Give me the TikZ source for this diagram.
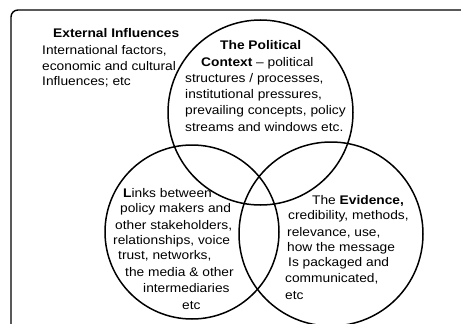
\documentclass[tikz,border=0pt]{standalone}
\usepackage{fontspec}
\setmainfont{Liberation Sans}[FakeStretch=1.1]
\tikzset{
  frame/.style={line width=1.4pt, rounded corners=7pt},
  ring/.style={line width=1.5pt},
  txt/.style={anchor=base west, inner sep=0pt, font=\fontsize{12.5}{15}\selectfont},
}
\begin{document}
\begin{tikzpicture}[x=1pt,y=-1pt]
\useasboundingbox (0,0) rectangle (461,324);
% frame (cropped at right and bottom)
\draw[frame] (462,10) -- (11,10) -- (11,325);
% circles
\draw[ring] (260.5,112.5) circle[radius=92.5pt];
\draw[ring] (192,232) circle[radius=87pt];
\draw[ring] (331,234) circle[radius=92pt];
% external influences
\node[txt] (ext1) at (53,37) {\textbf{External Influences}};
\node[txt] (ext2) at (42,54) {International factors,};
\node[txt] (ext3) at (42,70) {economic and cultural};
\node[txt] (ext4) at (42,85) {Influences; etc};
% political context
\node[txt] (pol1) at (220,49) {\textbf{The Political}};
\node[txt] (pol2) at (201,66) {\textbf{Context} -- political};
\node[txt] (pol3) at (185,82) {structures / processes,};
\node[txt] (pol4) at (185,98) {institutional pressures,};
\node[txt] (pol5) at (185,114) {prevailing concepts, policy};
\node[txt] (pol6) at (185,131) {streams and windows etc.};
% links
\node[txt] (lnk1) at (123,197) {\textbf{L}inks between};
\node[txt] (lnk2) at (120,212) {policy makers and};
\node[txt] (lnk3) at (115,229) {other stakeholders,};
\node[txt] (lnk4) at (113,244) {relationships, voice};
\node[txt] (lnk5) at (118,259) {trust, networks,};
\node[txt] (lnk6) at (125,276) {the media \& other};
\node[txt] (lnk7) at (143,292) {intermediaries};
\node[txt] (lnk8) at (182,309) {etc};
% evidence
\node[txt] (evd1) at (312,204) {The \textbf{Evidence,}};
\node[txt] (evd2) at (288,219) {credibility, methods,};
\node[txt] (evd3) at (287,236) {relevance, use,};
\node[txt] (evd4) at (287,251) {how the message};
\node[txt] (evd5) at (288,266) {Is packaged and};
\node[txt] (evd6) at (285,282) {communicated,};
\node[txt] (evd7) at (285,299) {etc};
\end{tikzpicture}
\end{document}
